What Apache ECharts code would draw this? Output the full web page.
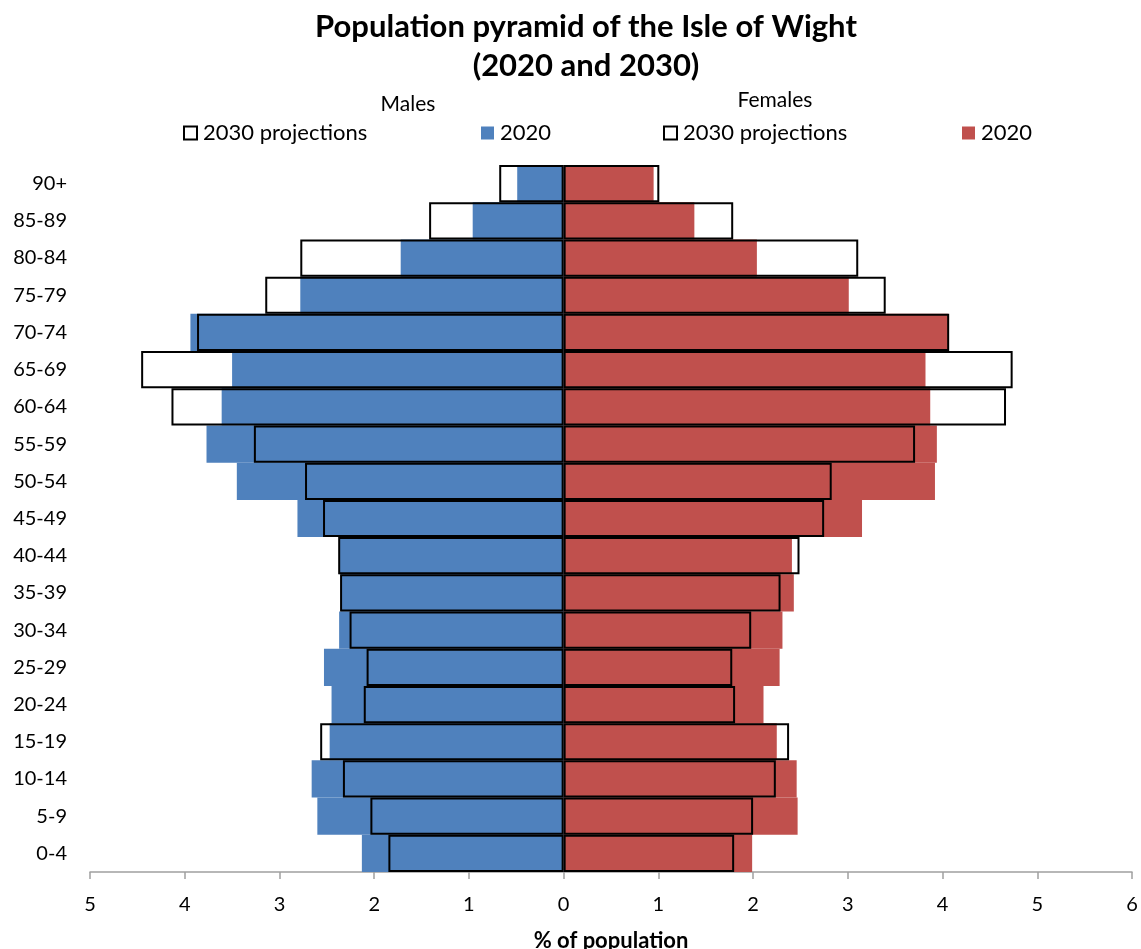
<!DOCTYPE html>
<html>
<head>
<meta charset="utf-8">
<script src="https://cdn.jsdelivr.net/npm/echarts@6/dist/echarts.min.js"></script>
<style>
html,body{margin:0;padding:0;background:#fff;}
#chart{width:1141px;height:949px;}
</style>
</head>
<body>
<div id="chart"></div>
<script>
// Categories from bottom (0-4) to top (90+)
const ageGroups = ['0-4','5-9','10-14','15-19','20-24','25-29','30-34','35-39','40-44','45-49','50-54','55-59','60-64','65-69','70-74','75-79','80-84','85-89','90+'];
const male2020 = [2.13, 2.60, 2.66, 2.47, 2.45, 2.53, 2.37, 2.35, 2.37, 2.81, 3.45, 3.77, 3.61, 3.50, 3.94, 2.78, 1.72, 0.96, 0.49];
const male2030 = [1.85, 2.04, 2.33, 2.57, 2.11, 2.08, 2.26, 2.36, 2.38, 2.54, 2.73, 3.27, 4.14, 4.46, 3.87, 3.15, 2.78, 1.42, 0.68];
const female2020 = [1.99, 2.47, 2.46, 2.25, 2.11, 2.28, 2.31, 2.43, 2.41, 3.15, 3.92, 3.94, 3.87, 3.82, 4.06, 3.01, 2.04, 1.38, 0.95];
const female2030 = [1.80, 2.00, 2.24, 2.38, 1.81, 1.78, 1.98, 2.29, 2.49, 2.75, 2.83, 3.71, 4.67, 4.74, 4.07, 3.40, 3.11, 1.79, 1.01];

const FONT = 'Lato, "Open Sans", sans-serif';
const BLUE = '#4F81BD';
const RED = '#C0504D';

const chart = echarts.init(document.getElementById('chart'), null, {renderer:'canvas'});

function legendAt(left, name, styleObj) {
  return {
    left: left, top: 122, padding: 0,
    itemWidth: 13, itemHeight: 13, itemGap: 0,
    icon: 'rect',
    selectedMode: false,
    formatter: n => n.trim(),
    textStyle: {fontFamily: FONT, fontSize: 22, color: '#000', padding:[0,0,0,1]},
    data: [{name: name, itemStyle: styleObj}]
  };
}

const outlineLegendStyle = {color:'#fff', borderColor:'#000', borderWidth:2};

function txt(x, y, text, size, bold) {
  return {type:'text', x:x, y:y, style:{text:text, textAlign:'center', textVerticalAlign:'middle',
    fontFamily:FONT, fontSize:size, fontWeight: bold ? 'bold' : 'normal', fill:'#000'}};
}

chart.setOption({
  animation: false,
  backgroundColor: '#fff',
  graphic: [
    txt(586, 27, 'Population pyramid of the Isle of Wight', 31, true),
    txt(586, 66, '(2020 and 2030)', 31, true),
    txt(408, 104, 'Males', 21, false),
    txt(775, 100, 'Females', 21, false)
  ],
  legend: [
    legendAt(183, '2030 projections', outlineLegendStyle),
    legendAt(481, '2020', {color: BLUE}),
    legendAt(663, '2030 projections ', outlineLegendStyle),
    legendAt(962, '2020 ', {color: RED})
  ],
  grid: {left: 90, right: 9, top: 165, bottom: 77, containLabel: false, outerBoundsMode: 'none'},
  xAxis: {
    type: 'value',
    min: -5, max: 6, interval: 1,
    splitLine: {show: false},
    axisLine: {show: true, onZero: false, lineStyle: {color: '#A0A0A0', width: 1.5}},
    axisTick: {show: true, length: 7, lineStyle: {color: '#A0A0A0', width: 1.5}},
    axisLabel: {fontFamily: FONT, fontSize: 20, color: '#000', margin: 23, formatter: v => Math.abs(v)},
    name: '% of population',
    nameLocation: 'middle',
    nameGap: 58,
    nameTextStyle: {fontFamily: FONT, fontSize: 22, fontWeight: 'bold', color: '#000'}
  },
  yAxis: {
    type: 'category',
    data: ageGroups,
    axisLine: {show: false, onZero: false},
    axisTick: {show: false},
    axisLabel: {fontFamily: FONT, fontSize: 20, color: '#000', margin: 23}
  },
  series: [
    {name:'2020', type:'bar', data: male2020.map(v => -v), barGap:'-100%', barCategoryGap:'0%',
     itemStyle:{color: BLUE}},
    {name:'2020 ', type:'bar', data: female2020, barGap:'-100%', barCategoryGap:'0%',
     itemStyle:{color: RED}},
    {name:'2030 projections', type:'bar', data: male2030.map(v => -v), barGap:'-100%', barCategoryGap:'0%',
     itemStyle:{color:'rgba(0,0,0,0)', borderColor:'#000', borderWidth:2}},
    {name:'2030 projections ', type:'bar', data: female2030, barGap:'-100%', barCategoryGap:'0%',
     itemStyle:{color:'rgba(0,0,0,0)', borderColor:'#000', borderWidth:2}}
  ]
});
</script>
</body>
</html>
